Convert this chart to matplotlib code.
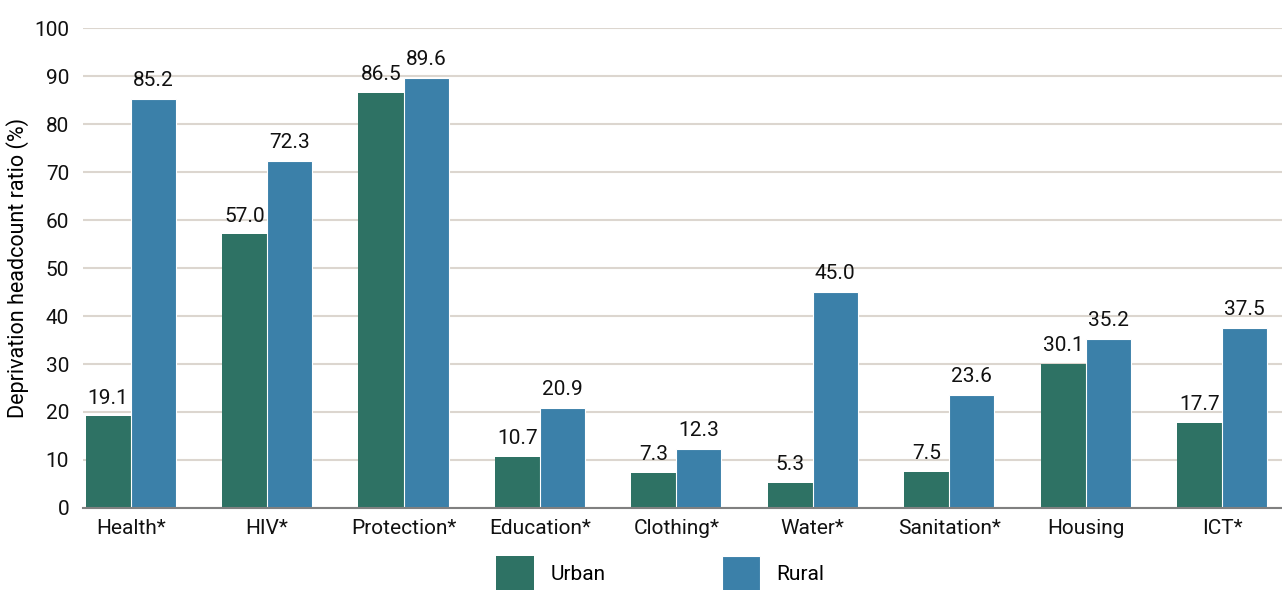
import matplotlib.pyplot as plt
import numpy as np

categories = ['Health*', 'HIV*', 'Protection*', 'Education*', 'Clothing*',
              'Water*', 'Sanitation*', 'Housing', 'ICT*']
urban = [19.1, 57.0, 86.5, 10.7, 7.3, 5.3, 7.5, 30.1, 17.7]
rural = [85.2, 72.3, 89.6, 20.9, 12.3, 45.0, 23.6, 35.2, 37.5]

plt.rcParams['font.family'] = ['Roboto', 'DejaVu Sans']

green = '#2e7264'
blue = '#3b80a9'

fig = plt.figure(figsize=(12.82, 5.9), dpi=100)
ax = fig.add_axes([0.0647, 0.139, 0.9353, 0.8135])

x = np.arange(len(categories))
w = 0.33
b1 = ax.bar(x - w/2, urban, w, color=green, label='Urban', zorder=3)
b2 = ax.bar(x + w/2, rural, w, color=blue, label='Rural', zorder=3,
            edgecolor='white', linewidth=0.8)

for bars, vals in ((b1, urban), (b2, rural)):
    for r, v in zip(bars, vals):
        ax.text(r.get_x() + r.get_width()/2, v + 1.8, '%.1f' % v,
                ha='center', va='bottom', fontsize=15, color='#111111')

ax.set_ylim(0, 100)
ax.set_xlim(-0.35, 8.44)
ax.set_yticks(range(0, 101, 10))
ax.set_xticks(x)
ax.set_xticklabels(categories)
ax.tick_params(axis='both', length=0, labelsize=15, colors='#111111')
ax.tick_params(axis='x', pad=8)
ax.tick_params(axis='y', pad=10)
ax.grid(axis='y', color='#dcd6cf', linewidth=1.5, zorder=0)
for s in ['top', 'right', 'left']:
    ax.spines[s].set_visible(False)
ax.spines['bottom'].set_color('#808080')
ax.spines['bottom'].set_linewidth(1.5)
ax.spines['bottom'].set_zorder(4)
ax.set_ylabel('Deprivation headcount ratio (%)', fontsize=15.5, labelpad=4)

fig.legend(handles=[b1, b2], labels=['Urban', 'Rural'], loc='lower center',
           bbox_to_anchor=(0.515, -0.035), ncol=2, frameon=False,
           fontsize=15, handlelength=1.8, handleheight=2.3,
           columnspacing=5.6, handletextpad=0.8)

fig.savefig('out.png', dpi=100)
